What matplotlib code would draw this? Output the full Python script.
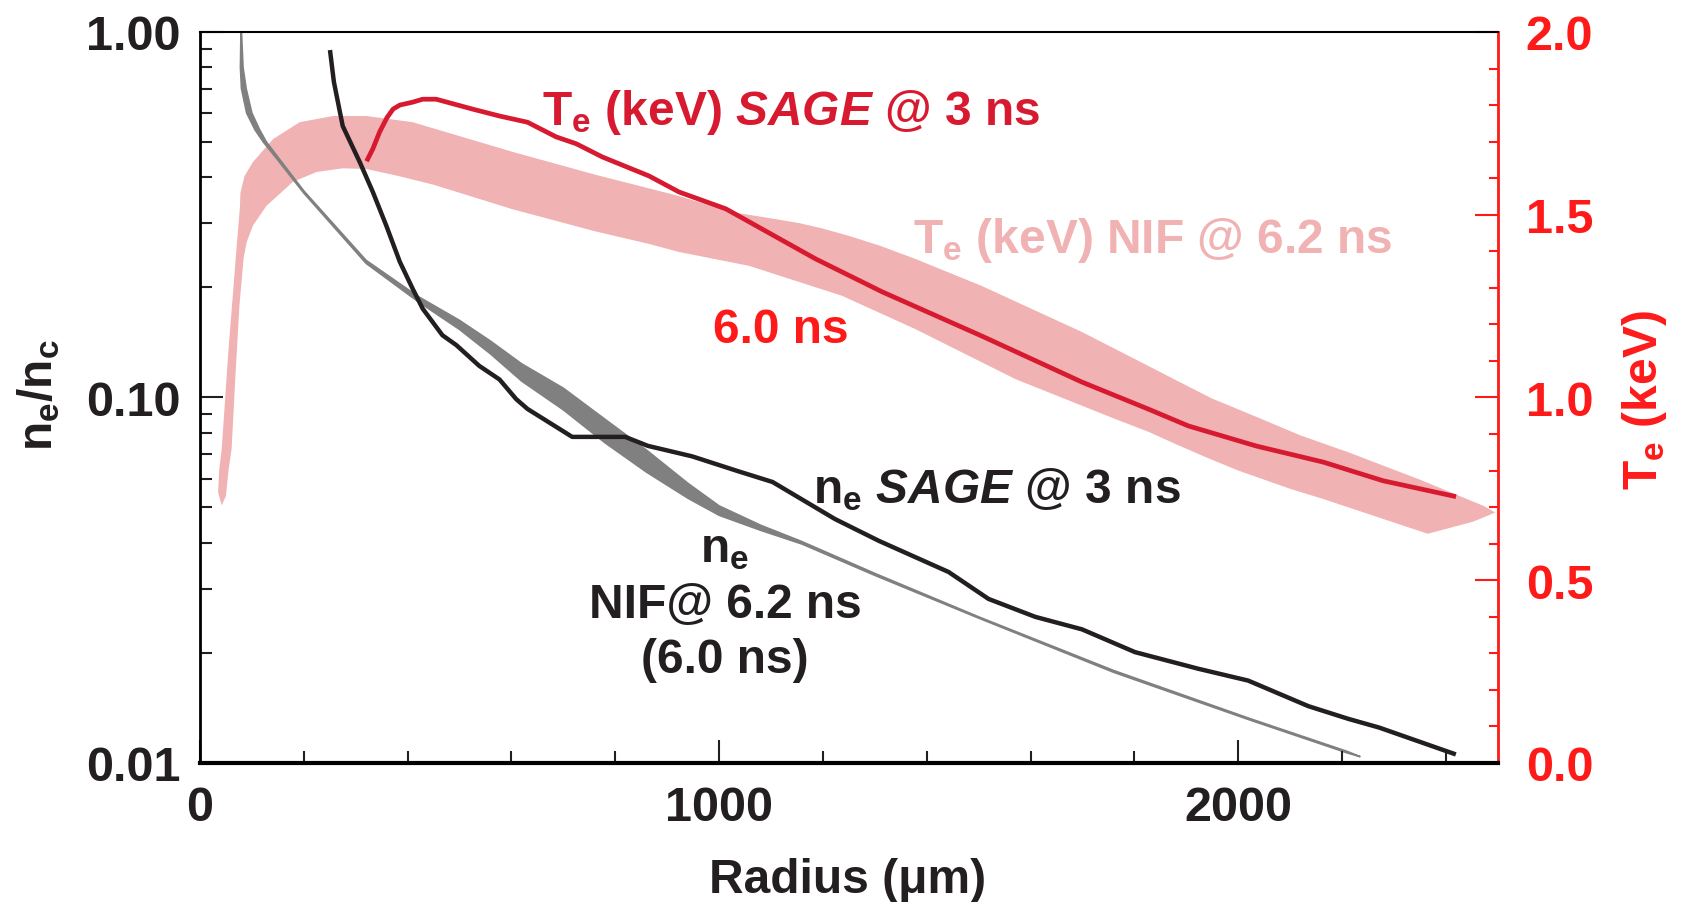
# ------------------------------------------------------------------------------------ #
# n_e and T_e profiles vs radius: SAGE @ 3 ns against NIF @ 6.2 ns (6.0 ns)
# ------------------------------------------------------------------------------------ #
import matplotlib
matplotlib.use('Agg')
import matplotlib.pyplot as plt
from matplotlib.ticker import MultipleLocator, NullFormatter
import numpy as np
# ------------------------------------------------------------------------------------ #
# values, radius in um
# SAGE electron density @ 3 ns (n_e/n_c)
r_sage_ne = [251, 258, 275, 308, 333, 359, 385, 410, 429, 467, 494, 538, 577, 609, 631,
             717, 819, 863, 948, 1034, 1103, 1223, 1308, 1442, 1519, 1609, 1699, 1801,
             1923, 2019, 2135, 2212, 2271, 2415]
ne_sage = [0.88, 0.73, 0.553, 0.44, 0.365, 0.295, 0.235, 0.198, 0.175, 0.148, 0.139, 0.122,
           0.112, 0.099, 0.093, 0.078, 0.078, 0.0737, 0.069, 0.063, 0.0587, 0.0465, 0.0405,
           0.0333, 0.0281, 0.0251, 0.0232, 0.0201, 0.0181, 0.0168, 0.0143, 0.0132, 0.0125,
           0.0106]

# NIF electron density band, upper/right edge (a) and lower/left edge (b)
r_nif_ne_a = [80, 83, 89, 100, 115, 128, 150, 200, 320, 420, 500, 560, 620, 700, 780, 860,
              940, 1000, 1080, 1160, 1300, 1500, 1760, 2020, 2210, 2235]
ne_nif_a = [1.00, 0.80, 0.70, 0.60, 0.54, 0.50, 0.455, 0.3675, 0.2372, 0.1890, 0.1625,
            0.1425, 0.1235, 0.1060, 0.0872, 0.0718, 0.0582, 0.0505, 0.0447, 0.0403, 0.0330,
            0.0251, 0.0179, 0.01326, 0.01075, 0.0104]
r_nif_ne_b = [79, 78, 80, 90, 106, 122, 148, 200, 320, 420, 500, 560, 620, 700, 780, 860,
              940, 1000, 1080, 1160, 1300, 1500, 1760, 2020, 2210, 2235]
ne_nif_b = [1.00, 0.80, 0.70, 0.60, 0.54, 0.50, 0.45, 0.3625, 0.2328, 0.1830, 0.1535,
            0.1315, 0.1108, 0.0925, 0.0752, 0.0625, 0.0530, 0.0476, 0.0433, 0.0397, 0.0326,
            0.0249, 0.0177, 0.01314, 0.01065, 0.0104]

# SAGE electron temperature @ 3 ns (keV)
r_sage_te = [323, 333, 346, 360, 372, 385, 410, 429, 455, 525, 577, 631, 686, 725, 775, 865,
             923, 1013, 1186, 1314, 1506, 1699, 1827, 1904, 2035, 2164, 2279, 2415]
te_sage = [1.652, 1.68, 1.726, 1.765, 1.789, 1.80, 1.808, 1.816, 1.816, 1.789, 1.77, 1.753,
           1.713, 1.694, 1.658, 1.606, 1.562, 1.516, 1.379, 1.289, 1.168, 1.042, 0.968,
           0.922, 0.867, 0.823, 0.772, 0.73]

# NIF electron temperature band, outer edge and inner edge (keV)
r_nif_te_out = [42, 35, 37, 42, 55, 70, 77, 78, 86, 102, 141, 192, 256, 321, 410, 500, 602,
                760, 923, 1025, 1100, 1154, 1200, 1250, 1310, 1378, 1506, 1699, 1827, 1890,
                1948, 2038, 2120, 2212, 2350, 2473, 2495]
te_nif_out = [0.705, 0.74, 0.80, 0.86, 1.13, 1.40, 1.52, 1.56, 1.606, 1.644, 1.707, 1.753,
              1.770, 1.770, 1.753, 1.715, 1.672, 1.61, 1.551, 1.507, 1.49, 1.477, 1.462,
              1.442, 1.415, 1.379, 1.305, 1.179, 1.086, 1.04, 0.998, 0.945, 0.896, 0.85,
              0.775, 0.703, 0.685]
r_nif_te_in = [42, 50, 55, 61, 68, 76, 84, 90, 102, 128, 179, 225, 275, 321, 385, 450, 500,
               602, 760, 865, 923, 1058, 1237, 1378, 1571, 1763, 1827, 1880, 1940, 2000,
               2100, 2164, 2365, 2452, 2495]
te_nif_in = [0.705, 0.73, 0.80, 0.86, 1.05, 1.25, 1.38, 1.425, 1.47, 1.524, 1.59, 1.617,
             1.627, 1.625, 1.605, 1.582, 1.56, 1.515, 1.455, 1.42, 1.398, 1.36, 1.278, 1.187,
             1.05, 0.941, 0.906, 0.872, 0.835, 0.80, 0.75, 0.722, 0.627, 0.66, 0.685]

x_ticks = [0, 1000, 2000]
ne_ticks = [0.01, 0.1, 1.0]
ne_tick_labels = ['0.01', '0.10', '1.00']
te_ticks = [0.0, 0.5, 1.0, 1.5, 2.0]
te_tick_labels = ['0.0', '0.5', '1.0', '1.5', '2.0']
# ------------------------------------------------------------------------------------ #
black = '#231f20'
gray = '#808080'
crimson = '#d71a30'
red = '#ff1a1a'
pink = '#f0b2b3'

plt.rcParams['font.family'] = ['Liberation Sans', 'DejaVu Sans']
plt.rcParams['font.weight'] = 'bold'
plt.rcParams['axes.labelweight'] = 'bold'
plt.rcParams['mathtext.fontset'] = 'custom'
plt.rcParams['mathtext.rm'] = 'Liberation Sans:bold'
plt.rcParams['mathtext.bf'] = 'Liberation Sans:bold'
plt.rcParams['mathtext.it'] = 'Liberation Sans:bold:italic'
fs_tick = 35
fs_label = 34.5
fs_text = 34.5

fig = plt.figure(figsize=(16.83, 9.03), dpi=100)
ax = fig.add_axes([0.1188, 0.154, 0.7712, 0.8095])
ax2 = ax.twinx()

# temperature on the twin axis, drawn underneath the density axis
ax2.fill(np.concatenate([r_nif_te_out, r_nif_te_in[::-1]]),
         np.concatenate([te_nif_out, te_nif_in[::-1]]), color=pink, lw=0)
ax2.plot(r_sage_te, te_sage, color=crimson, lw=3.4)

ax.fill(np.concatenate([r_nif_ne_a, r_nif_ne_b[::-1]]),
        np.concatenate([ne_nif_a, ne_nif_b[::-1]]), facecolor=gray, edgecolor=gray, lw=1.2)
ax.plot(r_sage_ne, ne_sage, color=black, lw=3.2)
ax.set_zorder(ax2.get_zorder() + 1)
ax.patch.set_visible(False)

ax.set_yscale('log')
ax.set_xlim(0, 2500)
ax.set_ylim(0.01, 1.0)
ax2.set_ylim(0, 2.0)

ax.set_xticks(x_ticks)
ax.xaxis.set_minor_locator(MultipleLocator(200))
ax.set_yticks(ne_ticks)
ax.set_yticklabels(ne_tick_labels)
ax.yaxis.set_minor_formatter(NullFormatter())
ax.tick_params(which='both', direction='in', width=1.5, color=black, labelcolor=black,
               labelsize=fs_tick)
ax.tick_params(which='major', length=16.5)
ax.tick_params(which='minor', length=8.5)
ax.tick_params(axis='y', pad=14)
ax.tick_params(axis='x', pad=16)

ax2.set_yticks(te_ticks)
ax2.set_yticklabels(te_tick_labels)
ax2.yaxis.set_minor_locator(MultipleLocator(0.1))
ax2.tick_params(which='both', direction='in', width=1.5, color=red, labelcolor=red,
                labelsize=fs_tick, pad=20)
ax2.tick_params(which='major', length=16.5)
ax2.tick_params(which='minor', length=6.5)

ax.spines['right'].set_visible(False)
ax.spines['left'].set_linewidth(2)
ax.spines['top'].set_linewidth(1.5)
ax.spines['bottom'].set_linewidth(3)
for s in ['left', 'top', 'bottom']:
    ax2.spines[s].set_visible(False)
ax2.spines['right'].set_color(red)
ax2.spines['right'].set_linewidth(2)

ax.set_xlabel('Radius (μm)', fontsize=fs_label, color=black)
ax.xaxis.set_label_coords(0.499, -0.1286)
ax.set_ylabel(r'$\mathregular{n_e/n_c}$', fontsize=fs_label, color=black)
ax.yaxis.set_label_coords(-0.106, 0.505)
ax2.set_ylabel(r'T$_\mathregular{e}$ (keV)', fontsize=fs_label, color=red)
ax2.yaxis.set_label_coords(1.094, 0.498)

# curve annotations
ax.text(0.2635, 0.874, r'T$_\mathregular{e}$ (keV) $\mathit{SAGE}$ @ 3 ns', transform=ax.transAxes,
        color=crimson, fontsize=fs_text, ha='left', va='baseline')
ax.text(0.549, 0.699, r'T$_\mathregular{e}$ (keV) NIF @ 6.2 ns', transform=ax.transAxes,
        color=pink, fontsize=fs_text, ha='left', va='baseline')
ax.text(0.395, 0.576, '6.0 ns', transform=ax.transAxes,
        color=red, fontsize=fs_text, ha='left', va='baseline')
ax.text(0.472, 0.357, r'n$_\mathregular{e}$ $\mathit{SAGE}$ @ 3 ns', transform=ax.transAxes,
        color=black, fontsize=fs_text, ha='left', va='baseline')
ax.text(0.4045, 0.276, r'n$_\mathregular{e}$', transform=ax.transAxes,
        color=black, fontsize=fs_text, ha='center', va='baseline')
ax.text(0.4045, 0.200, 'NIF@ 6.2 ns', transform=ax.transAxes,
        color=black, fontsize=fs_text, ha='center', va='baseline')
ax.text(0.4045, 0.1245, '(6.0 ns)', transform=ax.transAxes,
        color=black, fontsize=fs_text, ha='center', va='baseline')

plt.savefig('out.png', dpi=100, facecolor='white')
